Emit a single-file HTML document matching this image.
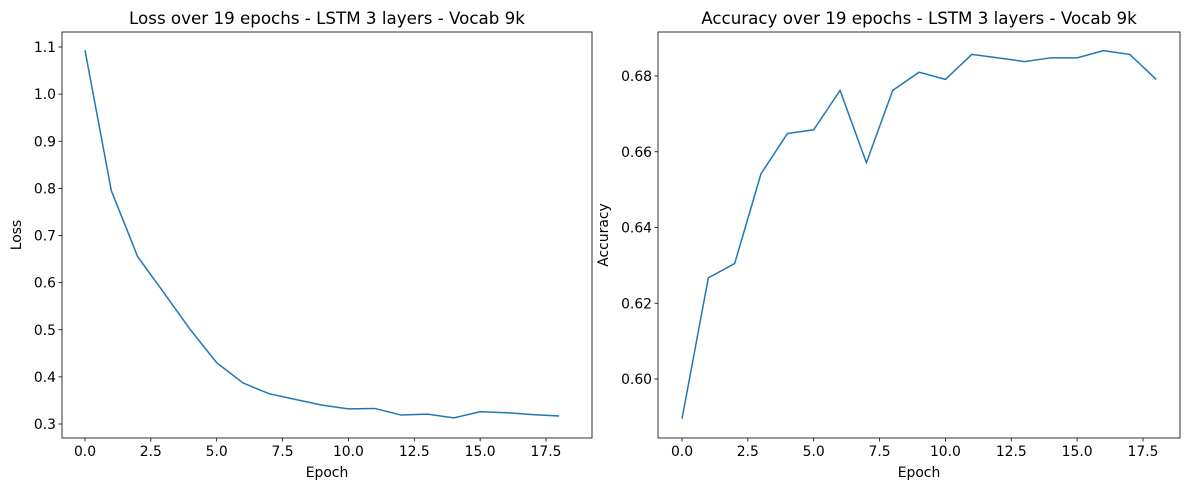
<!DOCTYPE html>
<html><head><meta charset="utf-8"><style>
body{margin:0;background:#fff;font-family:"Liberation Sans","DejaVu Sans",sans-serif}
svg text{font-family:"DejaVu Sans","Liberation Sans",sans-serif;fill:#000}
</style></head><body>
<svg id="c" width="1189" height="490" viewBox="0 0 1189 490" xmlns="http://www.w3.org/2000/svg"></svg>
<script>
const epochs=[0,1,2,3,4,5,6,7,8,9,10,11,12,13,14,15,16,17,18];
const lossValues=[1.093,0.795,0.655,0.578,0.500,0.430,0.387,0.364,0.352,0.340,0.332,0.333,0.319,0.321,0.313,0.326,0.324,0.320,0.317];
const accValues=[0.5895,0.6267,0.6305,0.6542,0.6648,0.6658,0.6762,0.6571,0.6762,0.6810,0.6791,0.6857,0.6848,0.6838,0.6848,0.6848,0.6867,0.6857,0.6791];
const xTicks=[0,2.5,5,7.5,10,12.5,15,17.5];
const lossTicks=[0.3,0.4,0.5,0.6,0.7,0.8,0.9,1.0,1.1];
const accTicks=[0.60,0.62,0.64,0.66,0.68];
const svg=document.getElementById('c');
const NS='http://www.w3.org/2000/svg';
function mk(tag,attrs,parent){const e=document.createElementNS(NS,tag);for(const k in attrs)e.setAttribute(k,attrs[k]);(parent||svg).appendChild(e);return e;}
function panel(o){
  const g=mk('g',{});
  
  
  const xs=v=>o.x0+(v-0)*(o.x1-o.x0)/17.5;
  const ys=v=>o.y0+(v-o.v0)*(o.y1-o.y0)/(o.v1-o.v0);
  const fr=mk('rect',{x:o.L,y:32,width:o.R-o.L,height:406,fill:'none',stroke:'#000','stroke-width':0.8},g);
  
  
  xTicks.forEach(t=>{const x=xs(t);mk('line',{x1:x,x2:x,y1:438,y2:441.5,stroke:'#000','stroke-width':0.8},g);
    const tx=mk('text',{x:x,y:456,'font-size':13.9,'text-anchor':'middle'},g);tx.textContent=t.toFixed(1);
    });
  o.ticks.forEach(t=>{const y=ys(t);mk('line',{x1:o.L-3.5,x2:o.L,y1:y,y2:y,stroke:'#000','stroke-width':0.8},g);
    const tx=mk('text',{x:o.L-6,y:y+5,'font-size':13.9,'text-anchor':'end'},g);tx.textContent=t.toFixed(o.dec);
    });
  const p=mk('polyline',{points:o.vals.map((v,i)=>xs(epochs[i])+','+ys(v)).join(' '),fill:'none',stroke:'#1f77b4','stroke-width':1.5},g);
  
  const ti=mk('text',{x:(o.L+o.R)/2,y:24,'font-size':16.7,'text-anchor':'middle'},g);ti.textContent=o.title;
  
  const xl=mk('text',{x:(o.L+o.R)/2,y:477,'font-size':13.9,'text-anchor':'middle'},g);xl.textContent='Epoch';
  
  const yl=mk('text',{x:o.ylx,y:235,'font-size':13.9,'text-anchor':'middle',transform:'rotate(-90 '+o.ylx+' 235)'},g);yl.textContent=o.ylabel;
  
}
panel({name:'loss-chart',L:62,R:592,x0:85,x1:546,y0:424,y1:47,v0:0.3,v1:1.1,ticks:lossTicks,dec:1,vals:lossValues,title:'Loss over 19 epochs - LSTM 3 layers - Vocab 9k',ylabel:'Loss',ylx:21});
panel({name:'accuracy-chart',L:658,R:1180,x0:682,x1:1143,y0:379,y1:76,v0:0.60,v1:0.68,ticks:accTicks,dec:2,vals:accValues,title:'Accuracy over 19 epochs - LSTM 3 layers - Vocab 9k',ylabel:'Accuracy',ylx:608});
</script>
</body></html>
